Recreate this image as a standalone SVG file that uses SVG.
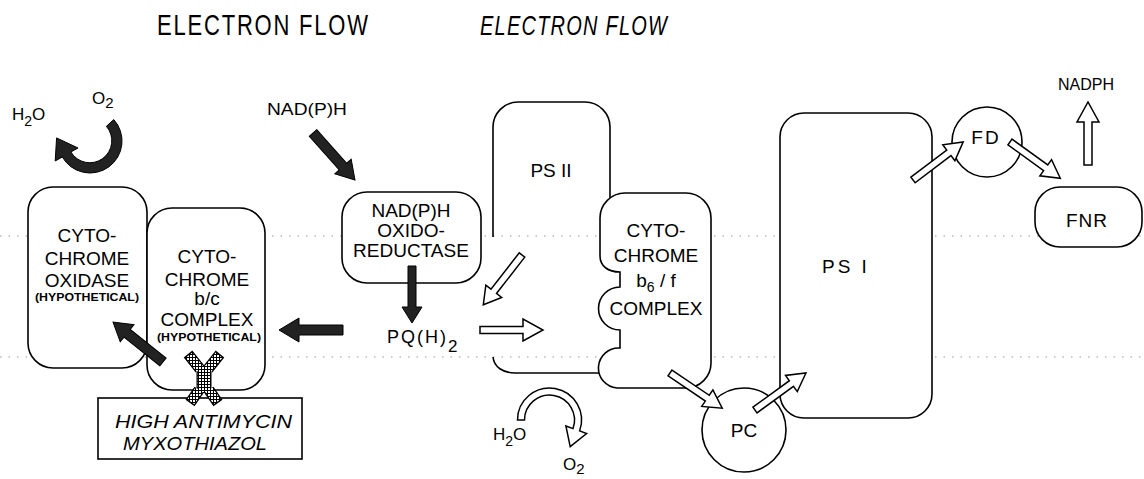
<svg xmlns="http://www.w3.org/2000/svg" width="1144" height="479" viewBox="0 0 1144 479">
<style>
text{font-family:"Liberation Sans",Arial,sans-serif;fill:#000}
.t{font-size:19px;text-anchor:middle}
.s{font-size:17px}
.hyp{font-size:10px;font-weight:bold;text-anchor:middle}
.box{fill:#fff;stroke:#000;stroke-width:1.6}
.line{fill:none;stroke:#000;stroke-width:1.6}
.mem{stroke:#9a9a9a;stroke-width:1.2;stroke-dasharray:1.5 7}
.dark{fill:#222;stroke:#000;stroke-width:1}
.open{fill:#fff;stroke:#000;stroke-width:1.5;stroke-linejoin:miter}
</style>
<defs>
<pattern id="mesh" width="3" height="3" patternUnits="userSpaceOnUse">
<rect width="3" height="3" fill="#fff"/>
<path d="M0,0.5H3M0.5,0V3" stroke="#000" stroke-width="1"/>
</pattern>
</defs>
<rect width="1144" height="479" fill="#fff"/>

<g id="titles">
<text transform="translate(157,35) scale(1,1.3)" font-size="22" textLength="211" lengthAdjust="spacing">ELECTRON FLOW</text>
<text transform="translate(480,35) scale(1,1.35)" font-size="20" font-style="italic" textLength="187" lengthAdjust="spacing">ELECTRON FLOW</text>
</g>

<g id="membrane">
<line class="mem" x1="0" y1="236" x2="1144" y2="236"/>
<line class="mem" x1="0" y1="357" x2="1144" y2="357"/>
</g>

<g id="cytochrome-oxidase">
<rect class="box" x="28" y="187" width="119" height="181" rx="25"/>
<text class="t" x="87" y="242">CYTO-</text>
<text class="t" x="87" y="265">CHROME</text>
<text class="t" x="87" y="287">OXIDASE</text>
<text class="hyp" x="87" y="301" textLength="104" lengthAdjust="spacingAndGlyphs">(HYPOTHETICAL)</text>
</g>

<g id="cytochrome-bc">
<rect class="box" x="147" y="208" width="118" height="182" rx="25"/>
<text class="t" x="207" y="263">CYTO-</text>
<text class="t" x="207" y="286">CHROME</text>
<text class="t" x="207" y="305">b/c</text>
<text class="t" x="207" y="326">COMPLEX</text>
<text class="hyp" x="209" y="341" textLength="104" lengthAdjust="spacingAndGlyphs">(HYPOTHETICAL)</text>
</g>

<g id="inhibitor-box">
<rect class="box" x="98" y="398" width="204" height="61" stroke-width="1.8"/>
<text x="115" y="428" font-size="18" font-style="italic" textLength="177" lengthAdjust="spacingAndGlyphs">HIGH ANTIMYCIN</text>
<text x="123" y="450" font-size="18" font-style="italic" textLength="144" lengthAdjust="spacingAndGlyphs">MYXOTHIAZOL</text>
</g>

<g id="inhibitor-symbol">
<g fill="none" stroke="#000" stroke-linecap="butt">
<path d="M188,354L200,369M220,354L208,369M199,390L190,403M209,390L218,403" stroke-width="11"/>
<path d="M204,366V393" stroke-width="15"/>
</g>
<g fill="none" stroke="url(#mesh)" stroke-linecap="butt">
<path d="M189,355.2L200,369M219,355.2L208,369M199,390L190.8,401.8M209,390L217.2,401.8" stroke-width="8.5"/>
<path d="M204,367V392" stroke-width="12.5"/>
</g>
</g>

<g id="nadph-oxidoreductase">
<rect class="box" x="342" y="192" width="139" height="91" rx="25"/>
<text class="t" x="411" y="217" font-size="18.5">NAD(P)H</text>
<text class="t" x="411" y="237" font-size="18.5">OXIDO-</text>
<text class="t" x="411" y="257" font-size="18.5">REDUCTASE</text>
</g>

<g id="psii">
<path class="line" d="M493,237V127A25,25 0 0 1 518,102H585A25,25 0 0 1 610,127V200"/>
<path class="line" d="M493,357C494,367 503,373 515,373H601"/>
<text class="t" x="551" y="177">PS II</text>
</g>

<g id="cytochrome-b6f">
<path class="box" d="M600,218V256C600,266 608,272 620,272V287A21.5,21.5 0 0 0 620,330V348A20,20 0 0 0 617,388H686A25,25 0 0 0 711,363V218A25,25 0 0 0 686,193H625A25,25 0 0 0 600,218Z"/>
<text class="t" x="656" y="237">CYTO-</text>
<text class="t" x="656" y="262">CHROME</text>
<text class="t" x="656" y="287">b<tspan font-size="14" dy="5">6</tspan><tspan dy="-5"> / f</tspan></text>
<text class="t" x="656" y="315">COMPLEX</text>
</g>

<g id="psi">
<rect class="box" x="780" y="113" width="152" height="305" rx="24"/>
<text x="822" y="273" font-size="19" letter-spacing="3">PS I</text>
</g>

<g id="pc">
<circle class="box" cx="744" cy="430" r="42"/>
<text class="t" x="744" y="437">PC</text>
</g>

<g id="fd">
<circle class="box" cx="987" cy="142" r="35"/>
<text class="t" x="986" y="144" font-size="17" letter-spacing="2">FD</text>
</g>

<g id="fnr">
<rect class="box" x="1035" y="187" width="107" height="60" rx="25"/>
<text class="t" x="1087" y="227" font-size="17" letter-spacing="1">FNR</text>
</g>

<g id="labels">
<text class="s" x="12" y="120">H<tspan font-size="14" dy="6">2</tspan><tspan dy="-6">O</tspan></text>
<text class="s" x="92" y="104">O<tspan font-size="15" dy="4">2</tspan></text>
<text x="267" y="115" font-size="17" textLength="80" lengthAdjust="spacingAndGlyphs">NAD(P)H</text>
<text x="387" y="343" font-size="18" letter-spacing="2">PQ(H)<tspan font-size="17" dy="9">2</tspan></text>
<text class="s" x="493" y="440">H<tspan font-size="14" dy="6">2</tspan><tspan dy="-6">O</tspan></text>
<text class="s" x="563" y="470">O<tspan font-size="15" dy="4">2</tspan></text>
<text x="1058" y="90" font-size="16">NADPH</text>
</g>

<g id="connectors">
<!-- curved dark arrow O2 -> H2O -->
<path class="dark" d="M113.8,119.6A32,32 0 1 1 62.3,157L55.2,161L56.6,137.9L78,148L70.9,152A22,22 0 1 0 106.4,126.3Z"/>
<!-- NAD(P)H -> oxidoreductase -->
<polygon class="dark" transform="translate(313,133) rotate(48.2)" points="0,-5 45,-5 45,-11 63,0 45,11 45,5 0,5"/>
<!-- oxidoreductase -> PQ(H)2 -->
<polygon class="dark" transform="translate(412,266) rotate(90)" points="0,-4 41,-4 41,-10 57,0 41,10 41,4 0,4"/>
<!-- PQ(H)2 -> b/c complex -->
<polygon class="dark" transform="translate(343,330) rotate(180)" points="0,-5 44,-5 44,-12 64,0 44,12 44,5 0,5"/>
<!-- b/c complex -> oxidase -->
<polygon class="dark" transform="translate(163,362) rotate(-141.3)" points="0,-5 46,-5 46,-11 64,0 46,11 46,5 0,5"/>
<!-- PSII -> PQ -->
<polygon class="open" transform="translate(522,255) rotate(127.9)" points="0,-3.5 46,-3.5 46,-10 63,0 46,10 46,3.5 0,3.5"/>
<!-- PQ -> b6f -->
<polygon class="open" transform="translate(480,330) rotate(0)" points="0,-3.5 43,-3.5 43,-11 63,0 43,11 43,3.5 0,3.5"/>
<!-- b6f -> PC -->
<polygon class="open" transform="translate(670,373) rotate(34)" points="0,-3.5 45,-3.5 45,-10 63,0 45,10 45,3.5 0,3.5"/>
<!-- PC -> PSI -->
<polygon class="open" transform="translate(755,410) rotate(-36)" points="0,-3.5 45,-3.5 45,-10 63,0 45,10 45,3.5 0,3.5"/>
<!-- PSI -> FD -->
<polygon class="open" transform="translate(913,180) rotate(-37.2)" points="0,-3.5 45,-3.5 45,-10 63,0 45,10 45,3.5 0,3.5"/>
<!-- FD -> FNR -->
<polygon class="open" transform="translate(1010,142) rotate(35.8)" points="0,-3.5 44,-3.5 44,-10 62,0 44,10 44,3.5 0,3.5"/>
<!-- FNR -> NADPH -->
<polygon class="open" transform="translate(1088,165) rotate(-90)" points="0,-4 43,-4 43,-11 63,0 43,11 43,4 0,4"/>
<!-- curved open arrow H2O -> O2 -->
<path class="open" d="M517.5,420A32,32 0 1 1 579.6,430.9L586.6,433.5L570.2,446.6L565.9,426L573,428.6A25,25 0 1 0 524.5,420Z"/>
</g>
</svg>
